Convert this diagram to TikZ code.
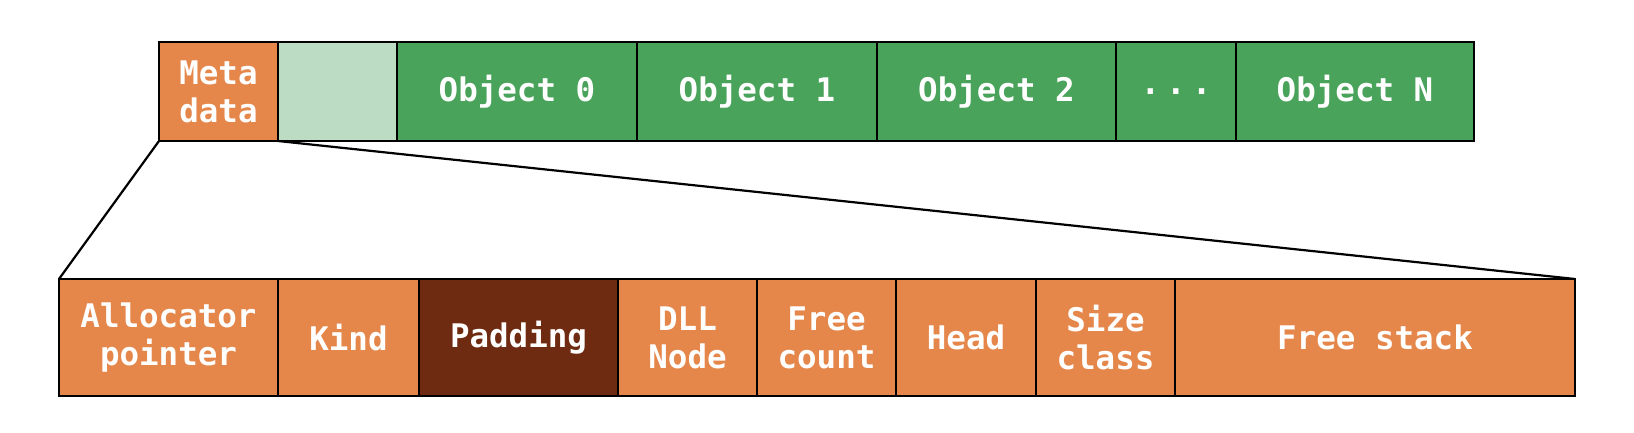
\documentclass[tikz,border=0pt]{standalone}
\usepackage{fontspec}
\setmonofont{DejaVu Sans Mono}
\usetikzlibrary{positioning}
\definecolor{metaorange}{HTML}{E5874B}
\definecolor{objgreen}{HTML}{4AA35A}
\definecolor{freegreen}{HTML}{BCDCC3}
\definecolor{padbrown}{HTML}{6F2B11}

\begin{document}
\begin{tikzpicture}[x=1pt,y=1pt,node distance=0pt]
  \tikzstyle{cell}=[draw,line width=2.8pt,outer sep=0pt,inner sep=0pt,align=center,text=white,font=\fontsize{32.5}{38}\selectfont\ttfamily\bfseries]
  \tikzstyle{top}=[cell,minimum height=99pt]
  \tikzstyle{bot}=[cell,minimum height=117pt,fill=metaorange]
  \useasboundingbox (0,0) rectangle (1634,432);
  % slab
  \node[top,fill=metaorange,minimum width=119pt,anchor=west] (meta) at (159,340.5) {Meta\\data};
  \node[top,fill=freegreen,minimum width=119pt,right=of meta] (gap) {};
  \node[top,fill=objgreen,minimum width=240pt,right=of gap] (obj0) {Object 0};
  \node[top,fill=objgreen,minimum width=240pt,right=of obj0] (obj1) {Object 1};
  \node[top,fill=objgreen,minimum width=239pt,right=of obj1] (obj2) {Object 2};
  \node[top,fill=objgreen,minimum width=120pt,right=of obj2] (dots) {.\hspace{6pt}.\hspace{6pt}.};
  \node[top,fill=objgreen,minimum width=238pt,right=of dots] (objn) {Object N};
  % metadata fields
  \node[bot,minimum width=219pt,anchor=west] (alloc) at (59,94.5) {Allocator\\pointer};
  \node[bot,minimum width=141pt,right=of alloc] (kind) {Kind};
  \node[bot,fill=padbrown,minimum width=199pt,right=of kind] (padding) {Padding};
  \node[bot,minimum width=139pt,right=of padding] (dll) {DLL\\Node};
  \node[bot,minimum width=139pt,right=of dll] (fcount) {Free\\count};
  \node[bot,minimum width=140pt,right=of fcount] (head) {Head};
  \node[bot,minimum width=139pt,right=of head] (sclass) {Size\\class};
  \node[bot,minimum width=400pt,right=of sclass] (fstack) {Free stack};
  \draw[line width=2.2pt] (meta.south west) -- (alloc.north west);
  \draw[line width=2.2pt] (meta.south east) -- (fstack.north east);
\end{tikzpicture}
\end{document}
